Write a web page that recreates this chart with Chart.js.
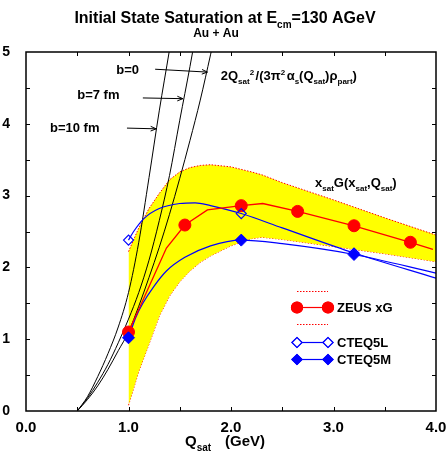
<!DOCTYPE html>
<html>
<head>
<meta charset="utf-8">
<script src="https://cdn.jsdelivr.net/npm/chart.js@4.4.1/dist/chart.umd.min.js"></script>
<style>
    html, body { margin: 0; padding: 0; background: #fff; }
    canvas { display: block; }
</style>
</head>
<body>
<canvas id="satChart" width="448" height="451"></canvas>
<script>
'use strict';

// axis ticks
const xTickValues = [0, 1, 2, 3, 4];
const xTickLabels = ['0.0', '1.0', '2.0', '3.0', '4.0'];
const yTickValues = [0, 1, 2, 3, 4, 5];
const yTickLabels = ['0', '1', '2', '3', '4', '5'];
const xTickMarks = [0.5, 1, 1.5, 2, 2.5, 3, 3.5];
const yTickMarks = [0.5, 1, 1.5, 2, 2.5, 3, 3.5, 4, 4.5];

// ZEUS xG points and the line through them
const zeusQ = [1.0, 1.55, 2.1, 2.65, 3.2, 3.75];
const zeusXG = [1.1, 2.59, 2.86, 2.78, 2.58, 2.35];
const zeusLineQ = [1.0, 1.19, 1.37, 1.55, 1.77, 2.1, 2.31, 2.65, 3.2, 3.75, 3.97];
const zeusLineXG = [1.1, 1.7, 2.27, 2.59, 2.8, 2.86, 2.89, 2.78, 2.58, 2.35, 2.25];

// ZEUS error band
const bandQ = [1.0, 1.1, 1.2, 1.3, 1.4, 1.5, 1.6, 1.7, 1.8, 2.0, 2.2, 2.3, 2.5, 3.0, 3.5, 4.0];
const bandUpper = [2.22, 2.55, 2.82, 3.03, 3.22, 3.33, 3.39, 3.42, 3.43, 3.40, 3.33, 3.29, 3.18, 2.94, 2.69, 2.45];
const bandLower = [0.08, 0.55, 0.93, 1.32, 1.6, 1.8, 1.95, 2.07, 2.16, 2.3, 2.4, 2.42, 2.39, 2.29, 2.19, 2.08];

// CTEQ5 points and curves
const cteqQ = [1.0, 2.1, 3.2];
const cteq5L = [2.38, 2.75, 2.2];
const cteq5M = [1.02, 2.38, 2.18];
const cteq5LLineQ = [1.0, 1.05, 1.15, 1.3, 1.5, 1.65, 1.8, 2.1, 2.5, 3.2, 4.0];
const cteq5LLine = [2.38, 2.5, 2.68, 2.82, 2.89, 2.9, 2.86, 2.75, 2.55, 2.2, 1.85];
const cteq5MLineQ = [1.0, 1.07, 1.14, 1.25, 1.37, 1.55, 1.8, 2.1, 2.5, 3.2, 4.0];
const cteq5MLine = [1.02, 1.3, 1.5, 1.74, 1.95, 2.14, 2.3, 2.38, 2.33, 2.18, 1.92];

// 2Q^2/(3 pi^2 alpha_s rho_part) for three impact parameters
const satQ = [0.5, 0.6, 0.7, 0.8, 0.9, 1.0, 1.1, 1.2, 1.3, 1.4, 1.5, 1.6, 1.7, 1.8, 1.9];
const satB0 = [0, 0.16, 0.35, 0.58, 0.84, 1.1, 1.46, 1.86, 2.28, 2.74, 3.24, 3.77, 4.33, 4.96, 5.6];
const satB7 = [0, 0.18, 0.4, 0.65, 0.95, 1.28, 1.65, 2.1, 2.65, 3.28, 4.05, 4.8, 5.6, 6.4, 7.2];
const satB10 = [0, 0.2, 0.48, 0.8, 1.17, 1.65, 2.35, 3.25, 4.18, 5.03, 5.9, 6.8, 7.7, 8.6, 9.5];

const FONT = '"Liberation Sans", Arial, Helvetica, sans-serif';
const RED = '#ff0000';
const BLUE = '#0000ff';

const pts = (xs, ys) => xs.map((x, i) => ({x, y: ys[i]}));

// text runs: [text, kind], kind '' | 'sub' | 'sup'
function richText(ctx, parts, x, y, size, draw) {
    let cx = x;
    for (const [t, kind] of parts) {
        const s = kind ? Math.round(size * 0.64) : size;
        ctx.font = `bold ${s}px ${FONT}`;
        const dy = kind === 'sub' ? size * 0.3 : kind === 'sup' ? -size * 0.42 : 0;
        if (draw) ctx.fillText(t, cx, y + dy);
        cx += ctx.measureText(t).width + (kind === 'sup' ? 1.5 : 0);
    }
    return cx - x;
}

function arrow(ctx, x0, y0, x1, y1) {
    const ang = Math.atan2(y1 - y0, x1 - x0);
    ctx.beginPath();
    ctx.moveTo(x0, y0);
    ctx.lineTo(x1, y1);
    ctx.moveTo(x1 - 6 * Math.cos(ang - 0.4), y1 - 6 * Math.sin(ang - 0.4));
    ctx.lineTo(x1, y1);
    ctx.lineTo(x1 - 6 * Math.cos(ang + 0.4), y1 - 6 * Math.sin(ang + 0.4));
    ctx.stroke();
}

const satNotes = [
    {text: 'b=0', x: 0.88, y: 4.69, from: [1.26, 4.76], to: [1.77, 4.72]},
    {text: 'b=7 fm', x: 0.5, y: 4.34, from: [1.14, 4.36], to: [1.53, 4.35]},
    {text: 'b=10 fm', x: 0.234, y: 3.88, from: [0.985, 3.94], to: [1.27, 3.93]}
];

const decorations = {
    id: 'decorations',
    afterDraw(chart) {
        const {ctx, chartArea: a, scales: {x, y}} = chart;
        ctx.save();
        ctx.fillStyle = '#000';
        ctx.strokeStyle = '#000';
        ctx.textBaseline = 'alphabetic';
        ctx.textAlign = 'left';

        // frame and inward ticks on all four sides
        ctx.lineWidth = 1.5;
        ctx.strokeRect(a.left, a.top, a.right - a.left, a.bottom - a.top);
        ctx.lineWidth = 1;
        ctx.beginPath();
        xTickMarks.forEach(v => {
            const px = Math.round(x.getPixelForValue(v)) + 0.5;
            ctx.moveTo(px, a.bottom); ctx.lineTo(px, a.bottom - 4);
            ctx.moveTo(px, a.top); ctx.lineTo(px, a.top + 4);
        });
        yTickMarks.forEach(v => {
            const py = Math.round(y.getPixelForValue(v)) + 0.5;
            ctx.moveTo(a.left, py); ctx.lineTo(a.left + 4, py);
            ctx.moveTo(a.right, py); ctx.lineTo(a.right - 4, py);
        });
        ctx.stroke();

        // title
        const title = [['Initial State Saturation at E', ''], ['cm', 'sub'], ['=130 AGeV', '']];
        const tw = richText(ctx, title, 0, 0, 16, false);
        richText(ctx, title, 225 - tw / 2, 23, 16, true);
        ctx.font = `bold 12px ${FONT}`;
        ctx.textAlign = 'center';
        ctx.fillText('Au + Au', 216, 37);
        ctx.textAlign = 'left';

        // x axis title
        richText(ctx, [['Q', ''], ['sat', 'sub']], 185, 446, 15, true);
        richText(ctx, [['(GeV)', '']], 225, 446, 15, true);

        // impact parameter labels with arrows
        ctx.lineWidth = 1;
        satNotes.forEach(n => {
            ctx.font = `bold 13px ${FONT}`;
            ctx.fillText(n.text, x.getPixelForValue(n.x), y.getPixelForValue(n.y));
            arrow(ctx, x.getPixelForValue(n.from[0]), y.getPixelForValue(n.from[1]),
                x.getPixelForValue(n.to[0]), y.getPixelForValue(n.to[1]));
        });

        richText(ctx, [['2Q', ''], ['sat', 'sub'], ['2', 'sup'], ['/(3\u03c0', ''], ['2', 'sup'],
            ['\u03b1', ''], ['s', 'sub'], ['(Q', ''], ['sat', 'sub'], [')\u03c1', ''], ['part', 'sub'], [')', '']],
            x.getPixelForValue(1.9), y.getPixelForValue(4.61), 13, true);
        richText(ctx, [['x', ''], ['sat', 'sub'], ['G(x', ''], ['sat', 'sub'], [',Q', ''], ['sat', 'sub'], [')', '']],
            x.getPixelForValue(2.82), y.getPixelForValue(3.12), 13, true);

        // legend
        const lx0 = 297, lx1 = 328, tx = 337;
        ctx.setLineDash([1.5, 1.5]);
        ctx.strokeStyle = RED;
        ctx.beginPath();
        ctx.moveTo(lx0, 291.5); ctx.lineTo(lx1, 291.5);
        ctx.moveTo(lx0, 324.5); ctx.lineTo(lx1, 324.5);
        ctx.stroke();
        ctx.setLineDash([]);

        const entry = (py, color, style, filled, label) => {
            ctx.strokeStyle = color;
            ctx.lineWidth = 1.2;
            ctx.beginPath();
            ctx.moveTo(lx0, py); ctx.lineTo(lx1, py);
            ctx.stroke();
            [lx0, lx1].forEach(px => {
                Chart.helpers.drawPoint(ctx, {pointStyle: style, radius: style === 'circle' ? 5.5 : 5, borderWidth: 1.2}, px, py);
                ctx.fillStyle = filled ? color : '#fff';
                ctx.fill();
                ctx.stroke();
            });
            ctx.fillStyle = '#000';
            ctx.font = `bold 13px ${FONT}`;
            ctx.fillText(label, tx, py + 4.5);
        };
        entry(307.5, RED, 'circle', true, 'ZEUS xG');
        entry(342.5, BLUE, 'rectRot', false, 'CTEQ5L');
        entry(359.5, BLUE, 'rectRot', true, 'CTEQ5M');

        ctx.restore();
    }
};

const curve = (data, color, width, order, extra) => Object.assign({
    data, showLine: true, borderColor: color, backgroundColor: color,
    borderWidth: width, pointRadius: 0, fill: false, order
}, extra || {});

new Chart(document.getElementById('satChart'), {
    type: 'scatter',
    data: {
        datasets: [
            curve(pts(bandQ, bandUpper), RED, 1, 10, {borderDash: [1.5, 1.5], fill: '+1', backgroundColor: '#ffff00'}),
            curve(pts(bandQ, bandLower), RED, 1, 10, {borderDash: [1.5, 1.5]}),
            curve(pts(satQ, satB0), '#000', 1, 5, {cubicInterpolationMode: 'monotone'}),
            curve(pts(satQ, satB7), '#000', 1, 5, {cubicInterpolationMode: 'monotone'}),
            curve(pts(satQ, satB10), '#000', 1, 5, {cubicInterpolationMode: 'monotone'}),
            curve(pts(zeusLineQ, zeusLineXG), RED, 1.3, 4),
            curve(pts(cteq5LLineQ, cteq5LLine), BLUE, 1.2, 4, {cubicInterpolationMode: 'monotone'}),
            curve(pts(cteq5MLineQ, cteq5MLine), BLUE, 1.2, 4, {cubicInterpolationMode: 'monotone'}),
            {data: pts(zeusQ, zeusXG), showLine: false, pointStyle: 'circle', pointRadius: 6,
                backgroundColor: RED, borderColor: RED, borderWidth: 1, order: 2},
            {data: pts(cteqQ, cteq5L), showLine: false, pointStyle: 'rectRot', pointRadius: 5,
                backgroundColor: 'rgba(0,0,0,0)', borderColor: BLUE, borderWidth: 1.2, order: 1},
            {data: pts(cteqQ, cteq5M), showLine: false, pointStyle: 'rectRot', pointRadius: 6,
                backgroundColor: BLUE, borderColor: BLUE, borderWidth: 1, order: 0}
        ]
    },
    options: {
        responsive: false,
        animation: false,
        devicePixelRatio: 1,
        events: [],
        layout: {padding: {top: 52, right: 12, left: 0, bottom: 0}},
        plugins: {legend: {display: false}, tooltip: {enabled: false}},
        scales: {
            x: {
                type: 'linear', min: 0, max: 4,
                grid: {display: false}, border: {display: false},
                afterBuildTicks: s => { s.ticks = xTickValues.map(v => ({value: v})); },
                afterFit: s => { s.height = 40; },
                ticks: {
                    padding: 0, color: '#000', maxRotation: 0,
                    font: {family: FONT, size: 15, weight: 'bold'},
                    callback: (v, i) => xTickLabels[i]
                }
            },
            y: {
                type: 'linear', min: 0, max: 5,
                grid: {display: false}, border: {display: false},
                afterBuildTicks: s => { s.ticks = yTickValues.map(v => ({value: v})); },
                afterFit: s => { s.width = 26; },
                ticks: {
                    padding: 8, color: '#000',
                    font: {family: FONT, size: 14, weight: 'bold'},
                    callback: (v, i) => yTickLabels[i]
                }
            }
        }
    },
    plugins: [decorations]
});
</script>
</body>
</html>
